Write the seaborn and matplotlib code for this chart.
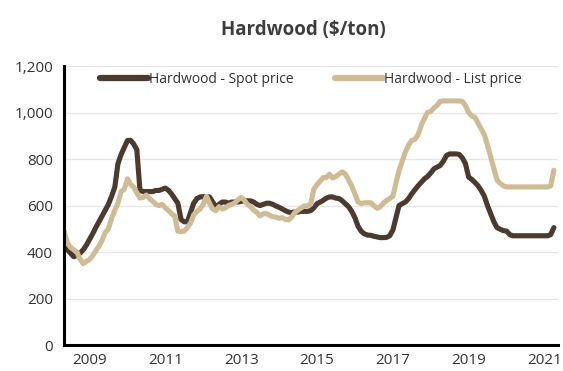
import matplotlib
matplotlib.use("Agg")
import matplotlib.pyplot as plt
import matplotlib.ticker as mticker
import numpy as np
import pandas as pd
import seaborn as sns

# Monthly prices, May 2008 - April 2021 ($/ton)
months = pd.date_range("2008-05-01", periods=156, freq="MS")

spot_price = [
    420, 410, 395, 380, 385, 395, 410, 430, 455, 480, 505, 530,
    555, 580, 605, 640, 680, 780, 820, 850, 880, 880, 865, 840,
    665, 660, 660, 660, 660, 665, 665, 670, 675, 665, 650, 630,
    610, 540, 530, 530, 570, 610, 630, 637, 638, 638, 637, 615,
    595, 605, 615, 615, 610, 615, 615, 615, 618, 622, 620, 620,
    615, 605, 600, 605, 610, 610, 605, 598, 592, 585, 578, 572,
    570, 572, 572, 575, 575, 575, 578, 590, 608, 615, 622, 632,
    637, 637, 632, 630, 620, 608, 595, 575, 548, 510, 490, 478,
    473, 472, 468, 465, 462, 462, 463, 470, 495, 550, 600, 608,
    615, 630, 650, 668, 685, 700, 715, 725, 740, 758, 765, 772,
    790, 815, 822, 822, 822, 820, 805, 780, 722, 712, 700, 685,
    665, 640, 600, 565, 530, 505, 498, 492, 490, 475, 470, 470,
    470, 470, 470, 470, 470, 470, 470, 470, 470, 470, 475, 505,
]

list_price = [
    490, 440, 420, 410, 400, 370, 350, 360, 368, 385, 405, 425,
    450, 485, 500, 545, 580, 610, 660, 670, 715, 690, 680, 655,
    632, 635, 645, 630, 618, 605, 600, 605, 590, 578, 565, 555,
    490, 488, 490, 505, 525, 560, 575, 585, 605, 640, 610, 585,
    578, 595, 585, 590, 600, 605, 612, 625, 635, 622, 605, 595,
    580, 570, 555, 565, 565, 558, 552, 550, 545, 548, 540, 538,
    550, 570, 580, 590, 598, 600, 605, 670, 690, 705, 720, 720,
    735, 718, 725, 735, 745, 735, 710, 685, 650, 615, 608, 612,
    612, 612, 600, 588, 595, 610, 622, 630, 640, 700, 750, 790,
    830, 860, 880, 885, 905, 945, 975, 1000, 1005, 1020, 1030, 1048,
    1050, 1050, 1050, 1050, 1050, 1050, 1048, 1030, 1000, 985, 980, 955,
    930, 905, 860, 810, 760, 710, 695, 685, 680, 680, 680, 680,
    680, 680, 680, 680, 680, 680, 680, 680, 680, 680, 685, 752,
]

series_names = ["Hardwood - Spot price", "Hardwood - List price"]
series_colors = ["#4b3a2d", "#cfbc96"]
tick_years = [2009, 2011, 2013, 2015, 2017, 2019, 2021]
y_ticks = [0, 200, 400, 600, 800, 1000, 1200]

df = pd.DataFrame({
    "month": np.concatenate([months, months]),
    "price": spot_price + list_price,
    "series": [series_names[0]] * len(months) + [series_names[1]] * len(months),
})

sns.set_theme(style="white")
plt.rcParams["font.family"] = ["Open Sans", "DejaVu Sans"]

fig = plt.figure(figsize=(5.63, 3.71), dpi=100)
ax = fig.add_axes([0.114, 0.070, 0.877, 0.752])

sns.lineplot(
    data=df, x="month", y="price", hue="series",
    hue_order=series_names, palette=series_colors,
    linewidth=3.7, ax=ax, legend=True,
)

ax.set_ylim(0, 1200)
ax.set_xlim(pd.Timestamp("2008-05-01"), pd.Timestamp("2021-05-10"))
ax.set_yticks(y_ticks)
ax.yaxis.set_major_formatter(mticker.FuncFormatter(lambda v, p: f"{int(v):,}"))
ax.set_xticks([pd.Timestamp(f"{y}-01-01") for y in tick_years])
ax.set_xticklabels([str(y) for y in tick_years])
ax.tick_params(axis="both", labelsize=11, colors="#333333", length=0)
ax.tick_params(axis="y", pad=8)
ax.tick_params(axis="x", pad=6)

ax.grid(axis="y", color="#e6e6e6", linewidth=0.9)
ax.set_axisbelow(True)
ax.set_xlabel("")
ax.set_ylabel("")
for side in ["top", "right"]:
    ax.spines[side].set_visible(False)
for side in ["left", "bottom"]:
    ax.spines[side].set_color("black")
    ax.spines[side].set_linewidth(2.2)

leg = ax.legend(
    loc="upper center", bbox_to_anchor=(0.5, 1.01), ncol=2, frameon=False,
    fontsize=10, handlelength=3.4, handletextpad=0.1, columnspacing=3.0,
    borderaxespad=0.2,
)
for line in leg.get_lines():
    line.set_linewidth(4.5)
    line.set_solid_capstyle("round")
for t in leg.get_texts():
    t.set_color("#333333")

fig.suptitle("Hardwood ($/ton)", x=0.538, y=0.945, fontsize=13.5,
             fontweight="bold", color="#3d3d3d")

fig.savefig("out.png", dpi=100)
